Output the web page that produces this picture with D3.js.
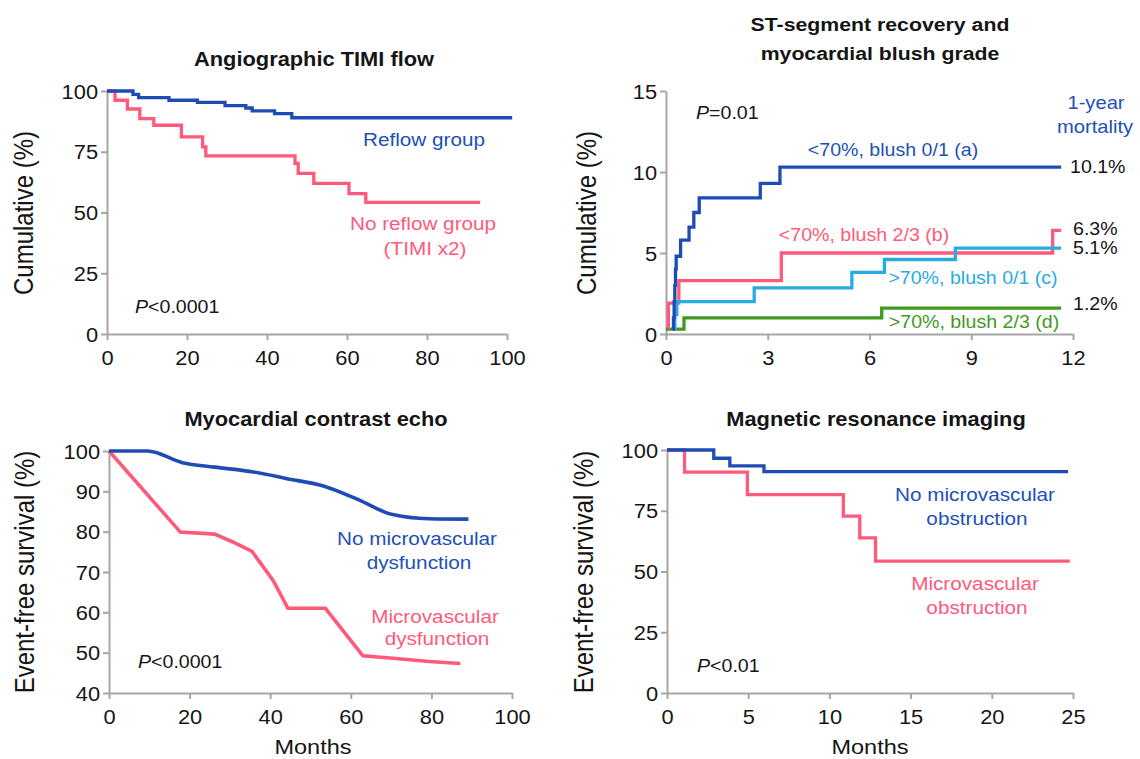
<!DOCTYPE html>
<html>
<head>
<meta charset="utf-8">
<script src="https://cdn.jsdelivr.net/npm/d3@7"></script>
<style>
  body { margin: 0; background: #fff; }
  svg text { font-family: Arial, "Liberation Sans", sans-serif; }
</style>
</head>
<body>
<svg id="chart" width="1140" height="759"></svg>
<script>
// ---- data: [month, percent] ----
const timiReflow   = [[0,100],[6.5,98.6],[7.9,97.3],[15.5,96.2],[22.6,95.3],[29.5,94],[34.7,93],[36.3,91.8],[41.9,90.7],[46.2,89],[101.3,89]];
const timiNoReflow = [[0,100],[2,96.2],[5.1,92.6],[8.2,88.6],[11.7,85.9],[18.6,81.1],[23.9,77],[24.7,73.3],[47,70.2],[47.8,66.1],[51.7,62],[60.5,57.8],[64.7,54.2],[93.3,54.2]];

const stLowBlush01  = [[0.2,0.3],[0.22,1.0],[0.24,2.0],[0.26,3.0],[0.28,4.0],[0.3,4.8],[0.43,5.8],[0.68,6.6],[0.82,7.5],[0.98,8.4],[2.78,9.3],[3.36,10.3],[11.65,10.3]];
const stLowBlush23  = [[0.05,0.4],[0.07,1.9],[0.38,3.3],[3.4,5.0],[11.4,6.4],[11.65,6.4]];
const stHighBlush01 = [[0.2,0.3],[0.26,1.2],[0.32,2.0],[2.6,2.85],[5.48,3.8],[6.44,4.6],[8.53,5.3],[11.65,5.3]];
const stHighBlush23 = [[0,0.3],[0.53,1.0],[6.36,1.6],[11.65,1.6]];

const echoNoDysfunction = [[0,100],[9.6,100],[18.2,97.1],[26.2,96.0],[35.9,94.8],[43.9,93.2],[53.2,91.3],[61.7,88.0],[70.1,84.3],[79.4,83.2],[89.2,83.1]];
const echoDysfunction   = [[0,100],[17.7,79.9],[26.2,79.4],[30.6,77.5],[35.5,75.1],[40.8,67.8],[44.4,61.0],[53.7,61.0],[63.0,49.2],[70.5,48.6],[79.4,47.8],[87.2,47.3]];

const mriNoObstruction = [[0,100],[2.88,96.6],[3.87,93.5],[5.97,91.1],[24.7,91.1]];
const mriObstruction   = [[0,100],[1.08,90.9],[4.95,81.6],[10.86,72.8],[11.87,63.8],[12.84,54.3],[24.8,54.3]];

const timiTicksX = [0, 20, 40, 60, 80, 100];
const timiTicksY = [0, 25, 50, 75, 100];
const stTicksX = [0, 3, 6, 9, 12];
const stTicksY = [0, 5, 10, 15];
const echoTicksX = [0, 20, 40, 60, 80, 100];
const echoTicksY = [40, 50, 60, 70, 80, 90, 100];
const mriTicksX = [0, 5, 10, 15, 20, 25];
const mriTicksY = [0, 25, 50, 75, 100];

// ---- styles ----
const BLUE = '#1f4bb4', BLUE_TXT = '#2150b8';
const PINK = '#ff5a7a';
const SKY = '#29abe2';
const GREEN = '#3f9a1f';
const AXIS = '#a6a6a6';
const INK = '#151515';
const SX = 1.12; // the figure is slightly stretched horizontally

const svg = d3.select('#chart');

function txt(g, x, y, s, o = {}) {
  const t = g.append('text')
    .attr('transform', `translate(${x},${y}) scale(${SX},1)` + (o.rotate ? ' rotate(-90)' : ''))
    .attr('text-anchor', o.anchor || 'middle')
    .attr('dominant-baseline', 'central')
    .style('font-size', (o.size || 18.5) + 'px')
    .style('font-weight', o.bold ? 'bold' : 'normal')
    .attr('fill', o.color || INK);
  if (o.italicP) {
    t.append('tspan').style('font-style', 'italic').text('P');
    t.append('tspan').text(s);
  } else {
    t.text(s);
  }
  return t;
}

function panel(cfg) {
  const x = d3.scaleLinear().domain(cfg.xDomain).range([cfg.left, cfg.right]);
  const y = d3.scaleLinear().domain(cfg.yDomain).range([cfg.bottom, cfg.top]);
  const g = svg.append('g');

  const ax = g.append('g')
    .attr('transform', `translate(0,${cfg.bottom})`)
    .call(d3.axisBottom(x).tickValues(cfg.xTicks).tickSize(6).tickSizeOuter(0));
  const ay = g.append('g')
    .attr('transform', `translate(${cfg.left},0)`)
    .call(d3.axisLeft(y).tickValues(cfg.yTicks).tickSize(6).tickSizeOuter(0));

  [ax, ay].forEach(a => {
    a.select('.domain').attr('stroke', AXIS).attr('stroke-width', 2);
    a.selectAll('.tick line').attr('stroke', AXIS).attr('stroke-width', 2);
    a.selectAll('text')
      .attr('fill', INK)
      .attr('dy', null)
      .attr('dominant-baseline', 'central')
      .attr('transform', `scale(${SX},1)`)
      .style('font-size', '19.5px')
      .style('font-family', 'Arial, "Liberation Sans", sans-serif');
  });
  ax.selectAll('text').attr('y', 24);
  ay.selectAll('text').attr('x', -8);

  cfg.series.forEach(s => {
    const line = d3.line()
      .x(d => x(d[0]))
      .y(d => y(d[1]))
      .curve(s.curve || cfg.curve);
    g.append('path')
      .datum(s.data)
      .attr('fill', 'none')
      .attr('stroke', s.color)
      .attr('stroke-width', s.width || 3.3)
      .attr('stroke-linejoin', 'miter')
      .attr('d', line);
  });
  return g;
}

// ---- top left: angiographic TIMI flow ----
const g1 = panel({
  left: 107, right: 507, top: 91, bottom: 334,
  xDomain: [0, 100], yDomain: [0, 100],
  xTicks: timiTicksX, yTicks: timiTicksY,
  curve: d3.curveStepAfter,
  series: [
    { data: timiNoReflow, color: PINK },
    { data: timiReflow, color: BLUE }
  ]
});
txt(g1, 314, 59, 'Angiographic TIMI flow', { bold: true, size: 19.5 });
txt(g1, 24, 213, 'Cumulative (%)', { rotate: true, size: 24 });
txt(g1, 424, 139, 'Reflow group', { color: BLUE_TXT });
txt(g1, 423, 223, 'No reflow group', { color: PINK });
txt(g1, 425, 248, '(TIMI x2)', { color: PINK });
txt(g1, 135, 306, '<0.0001', { anchor: 'start', size: 17.5, italicP: true });

// ---- top right: ST-segment recovery and blush grade ----
const g2 = panel({
  left: 666, right: 1073, top: 91, bottom: 334,
  xDomain: [0, 12], yDomain: [0, 15],
  xTicks: stTicksX, yTicks: stTicksY,
  curve: d3.curveStepAfter,
  series: [
    { data: stHighBlush23, color: GREEN },
    { data: stLowBlush23, color: PINK },
    { data: stHighBlush01, color: SKY },
    { data: stLowBlush01, color: BLUE }
  ]
});
txt(g2, 880, 24, 'ST-segment recovery and', { bold: true, size: 19 });
txt(g2, 880, 53, 'myocardial blush grade', { bold: true, size: 19 });
txt(g2, 587, 213, 'Cumulative (%)', { rotate: true, size: 24 });
txt(g2, 696, 112, '=0.01', { anchor: 'start', size: 17.5, italicP: true });
txt(g2, 1096, 103, '1-year', { color: BLUE_TXT, size: 18 });
txt(g2, 1095, 127, 'mortality', { color: BLUE_TXT, size: 18 });
txt(g2, 893, 150, '<70%, blush 0/1 (a)', { color: BLUE_TXT, size: 17.5 });
txt(g2, 864, 235, '<70%, blush 2/3 (b)', { color: PINK, size: 17.5 });
txt(g2, 973, 278, '>70%, blush 0/1 (c)', { color: SKY, size: 17.5 });
txt(g2, 974, 322, '>70%, blush 2/3 (d)', { color: GREEN, size: 17.5 });
txt(g2, 1070, 167, '10.1%', { anchor: 'start', size: 17.5 });
txt(g2, 1073, 229, '6.3%', { anchor: 'start', size: 17.5 });
txt(g2, 1073, 248, '5.1%', { anchor: 'start', size: 17.5 });
txt(g2, 1073, 304, '1.2%', { anchor: 'start', size: 17.5 });

// ---- bottom left: myocardial contrast echo ----
const g3 = panel({
  left: 109, right: 512, top: 451, bottom: 693,
  xDomain: [0, 100], yDomain: [40, 100],
  xTicks: echoTicksX, yTicks: echoTicksY,
  curve: d3.curveLinear,
  series: [
    { data: echoDysfunction, color: PINK, width: 3.6 },
    { data: echoNoDysfunction, color: BLUE, width: 3.6, curve: d3.curveMonotoneX }
  ]
});
txt(g3, 316, 419, 'Myocardial contrast echo', { bold: true, size: 19.5 });
txt(g3, 25, 572, 'Event-free survival (%)', { rotate: true, size: 24 });
txt(g3, 313, 747, 'Months', { size: 21 });
txt(g3, 417, 538, 'No microvascular', { color: BLUE_TXT });
txt(g3, 419, 562, 'dysfunction', { color: BLUE_TXT });
txt(g3, 435, 616, 'Microvascular', { color: PINK });
txt(g3, 437, 638, 'dysfunction', { color: PINK });
txt(g3, 138, 661, '<0.0001', { anchor: 'start', size: 17.5, italicP: true });

// ---- bottom right: magnetic resonance imaging ----
const g4 = panel({
  left: 667, right: 1073, top: 450, bottom: 693,
  xDomain: [0, 25], yDomain: [0, 100],
  xTicks: mriTicksX, yTicks: mriTicksY,
  curve: d3.curveStepAfter,
  series: [
    { data: mriObstruction, color: PINK },
    { data: mriNoObstruction, color: BLUE }
  ]
});
txt(g4, 876, 419, 'Magnetic resonance imaging', { bold: true, size: 19.5 });
txt(g4, 584, 572, 'Event-free survival (%)', { rotate: true, size: 24 });
txt(g4, 870, 747, 'Months', { size: 21 });
txt(g4, 975, 494, 'No microvascular', { color: BLUE_TXT });
txt(g4, 977, 518, 'obstruction', { color: BLUE_TXT });
txt(g4, 975, 583, 'Microvascular', { color: PINK });
txt(g4, 977, 607, 'obstruction', { color: PINK });
txt(g4, 697, 665, '<0.01', { anchor: 'start', size: 17.5, italicP: true });
</script>
</body>
</html>
